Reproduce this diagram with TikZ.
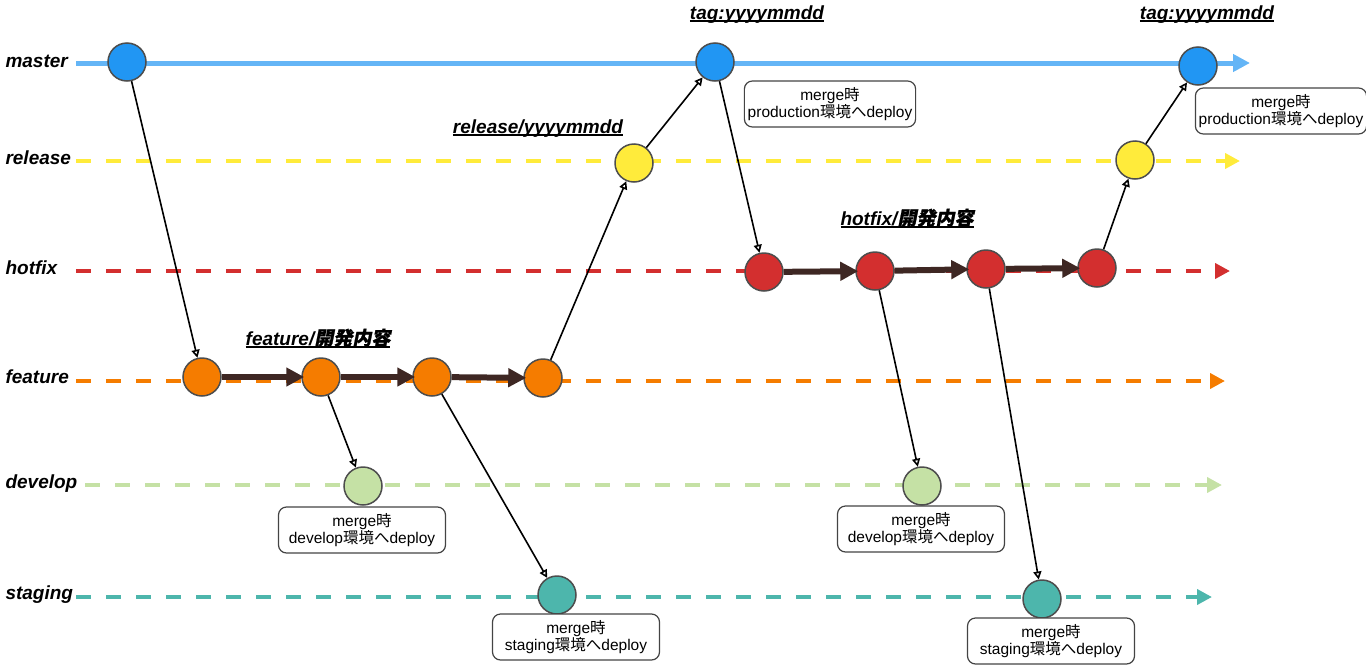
\documentclass[tikz,border=0pt]{standalone}
\usepackage{fontspec}
\setmainfont{Liberation Sans}
\newfontfamily\jpfont{Noto Sans CJK JP}
\newfontfamily\jpbifont{Noto Sans CJK JP}[FakeSlant=0.2,FakeBold=1]
\usetikzlibrary{arrows.meta}
\definecolor{masterline}{HTML}{64B5F6}
\definecolor{masterfill}{HTML}{2196F3}
\definecolor{releasecol}{HTML}{FFEB3B}
\definecolor{hotfixcol}{HTML}{D32F2F}
\definecolor{featurecol}{HTML}{F57C00}
\definecolor{developcol}{HTML}{C5E1A5}
\definecolor{stagingcol}{HTML}{4DB6AC}
\definecolor{commitgray}{HTML}{4D4D4D}
\definecolor{workbrown}{HTML}{3E2723}
\definecolor{notegray}{HTML}{444444}
% underline close to the baseline
\newcommand\brul[1]{\setbox0\hbox{#1}\rlap{\copy0}\rule[-2.5pt]{\wd0}{1.3pt}}
\begin{document}
\begin{tikzpicture}[x=1pt,y=-1pt,
	commit/.style={circle,draw=commitgray,line width=1.5pt,minimum size=38pt,inner sep=0pt,fill=#1},
	branch/.style={line width=4pt,dash pattern=on 15pt off 15pt,-{Triangle[length=15pt,width=15pt]}},
	merge/.style={black,line width=1.6pt,-{Triangle[open,length=8pt,width=8pt]}},
	work/.style={workbrown,line width=6pt,shorten >=-3pt,-{Triangle[length=18pt,width=18pt]}},
	note/.style={draw=notegray,line width=1.2pt,rounded corners=8pt,fill=white,minimum width=167pt,minimum height=46pt,align=center,font=\fontsize{15.5}{17}\selectfont},
	lbl/.style={font=\fontsize{19}{22}\selectfont\bfseries\itshape}]
	\useasboundingbox (0,0) rectangle (1366,667);

	% branch lines
	\coordinate (masterstart) at (76,63);
	\coordinate (masterend) at (1250,63);
	\draw[masterline,line width=5pt,-{Triangle[length=17pt,width=17pt]}] (masterstart) -- (masterend);
	\foreach \name/\y/\xs/\xe/\col in {release/161/76/1240/releasecol, hotfix/271/76/1230/hotfixcol, feature/381/76/1225/featurecol, develop/485/85/1222/developcol, staging/597/76/1212/stagingcol} {
		\coordinate (\name start) at (\xs,\y);
		\coordinate (\name end) at (\xe,\y);
		\draw[branch,\col] (\name start) -- (\name end);
	}

	% branch names
	\node[lbl,anchor=base west] (lblmaster) at (2,67) {master};
	\node[lbl,anchor=base west] (lblrelease) at (2,164) {release};
	\node[lbl,anchor=base west] (lblhotfix) at (2,274) {hotfix};
	\node[lbl,anchor=base west] (lblfeature) at (2,383) {feature};
	\node[lbl,anchor=base west] (lbldevelop) at (2,488) {develop};
	\node[lbl,anchor=base west] (lblstaging) at (2,599) {staging};

	% commits
	\node[commit=masterfill] (m1) at (127,62) {};
	\node[commit=masterfill] (m2) at (715,62) {};
	\node[commit=masterfill] (m3) at (1198,66) {};
	\node[commit=releasecol] (r1) at (634,163) {};
	\node[commit=releasecol] (r2) at (1135,160) {};
	\node[commit=hotfixcol] (h1) at (764,272) {};
	\node[commit=hotfixcol] (h2) at (875,271) {};
	\node[commit=hotfixcol] (h3) at (986,269) {};
	\node[commit=hotfixcol] (h4) at (1097,268) {};
	\node[commit=featurecol] (f1) at (202,377) {};
	\node[commit=featurecol] (f2) at (321,377) {};
	\node[commit=featurecol] (f3) at (432,377) {};
	\node[commit=featurecol] (f4) at (543,378) {};
	\node[commit=developcol] (d1) at (363,486) {};
	\node[commit=developcol] (d2) at (922,486) {};
	\node[commit=stagingcol] (s1) at (557,595) {};
	\node[commit=stagingcol] (s2) at (1042,599) {};

	% work on the branches
	\draw[work] (f1) -- (f2);
	\draw[work] (f2) -- (f3);
	\draw[work] (f3) -- (f4);
	\draw[work] (h1) -- (h2);
	\draw[work] (h2) -- (h3);
	\draw[work] (h3) -- (h4);

	% merges
	\draw[merge] (m1) -- (f1);
	\draw[merge] (f2) -- (d1);
	\draw[merge] (f3) -- (s1);
	\draw[merge] (f4) -- (r1);
	\draw[merge] (r1) -- (m2);
	\draw[merge] (m2) -- (h1);
	\draw[merge] (h2) -- (d2);
	\draw[merge] (h3) -- (s2);
	\draw[merge] (h4) -- (r2);
	\draw[merge] (r2) -- (m3);

	% branch titles
	\node[lbl,anchor=base] (tagA) at (757,19) {\brul{tag:yyyymmdd}};
	\node[lbl,anchor=base] (tagB) at (1207,19) {\brul{tag:yyyymmdd}};
	\node[lbl,anchor=base] (relname) at (538,133) {\brul{release/yyyymmdd}};
	\node[lbl,anchor=base] (featname) at (318,345) {\brul{feature/{\jpbifont 開発内容}}};
	\node[lbl,anchor=base] (hotname) at (907,225) {\brul{hotfix/{\jpbifont 開発内容}}};

	% deploy notes
	\node[note] (prodnoteA) at (830,104) {merge{\jpfont 時}\\production{\jpfont 環境へ}deploy};
	\node[note] (prodnoteB) at (1281,111) {merge{\jpfont 時}\\production{\jpfont 環境へ}deploy};
	\node[note] (devnoteA) at (362,530) {merge{\jpfont 時}\\develop{\jpfont 環境へ}deploy};
	\node[note] (devnoteB) at (921,529) {merge{\jpfont 時}\\develop{\jpfont 環境へ}deploy};
	\node[note] (stagenoteA) at (576,637) {merge{\jpfont 時}\\staging{\jpfont 環境へ}deploy};
	\node[note] (stagenoteB) at (1051,641) {merge{\jpfont 時}\\staging{\jpfont 環境へ}deploy};
\end{tikzpicture}
\end{document}
